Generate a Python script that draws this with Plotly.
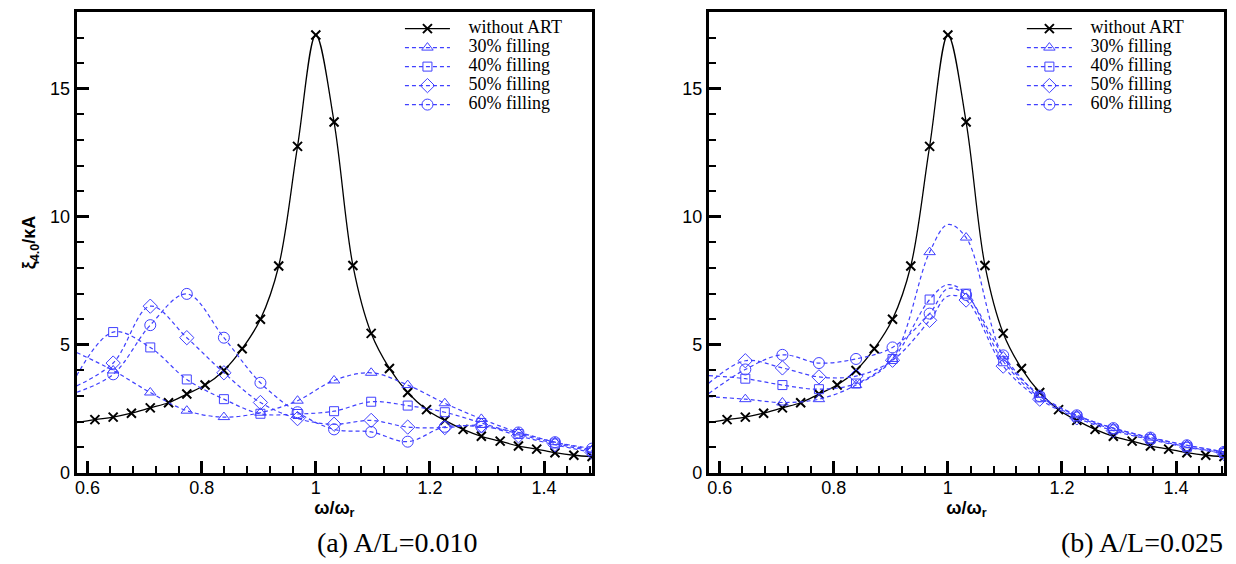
import plotly.graph_objects as go

# frequency ratio omega / omega_r at every computed point
omega = [0.581, 0.613, 0.645, 0.677, 0.710, 0.742, 0.774, 0.806, 0.839, 0.871,
         0.903, 0.935, 0.968, 1.000, 1.032, 1.065, 1.097, 1.129, 1.161, 1.194,
         1.226, 1.258, 1.290, 1.323, 1.355, 1.387, 1.419, 1.452, 1.484]

# response without anti-roll tank (same in both panels)
no_art = [1.96, 2.08, 2.18, 2.33, 2.54, 2.74, 3.08, 3.43, 4.00, 4.85,
          6.00, 8.08, 12.75, 17.10, 13.70, 8.10, 5.45, 4.08, 3.14, 2.47,
          2.05, 1.70, 1.43, 1.24, 1.05, 0.93, 0.79, 0.69, 0.64]

# filling cases are marked at every second frequency
omega_fill = omega[::2]

# (a) A/L = 0.010
a_fill30 = [4.70, 4.00, 3.14, 2.43, 2.18, 2.35, 2.82, 3.61, 3.91, 3.43, 2.72, 2.11, 1.58, 1.20, 0.90]
a_fill40 = [3.80, 5.50, 4.90, 3.65, 2.88, 2.31, 2.30, 2.41, 2.78, 2.63, 2.37, 1.95, 1.52, 1.15, 0.85]
a_fill50 = [3.40, 4.29, 6.51, 5.28, 3.91, 2.75, 2.12, 1.90, 2.05, 1.79, 1.77, 1.85, 1.45, 1.10, 0.80]
a_fill60 = [3.15, 3.85, 5.77, 6.99, 5.28, 3.52, 2.37, 1.70, 1.60, 1.22, 1.80, 1.80, 1.58, 1.20, 0.95]

# (b) A/L = 0.025
b_fill30 = [2.98, 2.88, 2.75, 2.88, 3.43, 4.45, 8.62, 9.19, 4.55, 3.05, 2.25, 1.75, 1.38, 1.08, 0.82]
b_fill40 = [3.80, 3.68, 3.43, 3.27, 3.49, 4.45, 6.77, 7.00, 4.36, 2.95, 2.20, 1.70, 1.33, 1.02, 0.78]
b_fill50 = [3.50, 4.38, 4.10, 3.75, 3.78, 4.40, 5.96, 6.75, 4.17, 2.88, 2.15, 1.65, 1.30, 1.00, 0.76]
b_fill60 = [3.10, 4.04, 4.61, 4.29, 4.45, 4.90, 6.22, 6.95, 4.59, 3.00, 2.25, 1.75, 1.38, 1.08, 0.82]

# unmarked curve values at omega/omega_r = 1 (between the marked points), panel (b)
omega_peak = 1.000
b_peak = [9.70, 7.35, 6.90, 7.20]

fill_names = ['30% filling', '40% filling', '50% filling', '60% filling']
fill_symbols = ['triangle-up-open', 'square-open', 'diamond-open', 'circle-open']
fill_sizes = [10, 9, 11, 11]

panels = [
    ('x', 'y', 'legend', [a_fill30, a_fill40, a_fill50, a_fill60], None),
    ('x2', 'y2', 'legend2', [b_fill30, b_fill40, b_fill50, b_fill60], b_peak),
]

BLUE = 'rgb(64,64,255)'
LEG_SPAN = '<span style="font-size:18px">{}</span>'

fig = go.Figure()

for xa, ya, leg, fills, peaks in panels:
    # black reference curve
    fig.add_trace(go.Scatter(
        x=omega, y=no_art, xaxis=xa, yaxis=ya, mode='lines',
        line=dict(color='black', width=1.3, shape='spline'), showlegend=False,
    ))
    fig.add_trace(go.Scatter(
        x=omega[1:], y=no_art[1:], xaxis=xa, yaxis=ya, mode='markers',
        marker=dict(symbol='x-thin', size=9, line=dict(color='black', width=2)),
        showlegend=False,
    ))
    fig.add_trace(go.Scatter(
        x=[None], y=[None], xaxis=xa, yaxis=ya, mode='lines+markers', legend=leg,
        name=LEG_SPAN.format('   without ART'),
        line=dict(color='black', width=1.3),
        marker=dict(symbol='x-thin', size=9, line=dict(color='black', width=2)),
    ))
    for i, (vals, name, sym, size) in enumerate(zip(fills, fill_names, fill_symbols, fill_sizes)):
        line_x, line_y = list(omega_fill), list(vals)
        if peaks is not None:
            pos = sum(1 for v in omega_fill if v < omega_peak)
            line_x.insert(pos, omega_peak)
            line_y.insert(pos, peaks[i])
        fig.add_trace(go.Scatter(
            x=line_x, y=line_y, xaxis=xa, yaxis=ya, mode='lines',
            line=dict(color=BLUE, width=1.2, dash='4px,3px', shape='spline'),
            showlegend=False,
        ))
        fig.add_trace(go.Scatter(
            x=omega_fill[1:], y=vals[1:], xaxis=xa, yaxis=ya, mode='markers',
            marker=dict(symbol=sym, size=size, color=BLUE, line=dict(color=BLUE, width=1)),
            showlegend=False,
        ))
        fig.add_trace(go.Scatter(
            x=[None], y=[None], xaxis=xa, yaxis=ya, mode='lines+markers', legend=leg,
            name=LEG_SPAN.format('   ' + name),
            line=dict(color=BLUE, width=1.2, dash='4px,3px'),
            marker=dict(symbol=sym, size=size, color=BLUE, line=dict(color=BLUE, width=1)),
        ))

x_axis = dict(
    range=[omega[0], omega[-1]], tick0=0.6, dtick=0.2,
    showline=True, linewidth=3, linecolor='black', mirror=True,
    ticks='inside', ticklen=12, tickwidth=2.5, tickcolor='black',
    minor=dict(tick0=0.6, dtick=0.04, ticks='inside', ticklen=7, tickwidth=1.5, tickcolor='black'),
    showgrid=False, zeroline=False, ticklabelstandoff=-4,
    tickfont=dict(family='Liberation Sans', size=18, color='black'),
    title=dict(text='<b>ω/ω<sub>r</sub></b>', standoff=0,
               font=dict(family='Liberation Sans', size=18, color='black')),
)
y_axis = dict(
    range=[0, 18], tick0=0, dtick=5,
    showline=True, linewidth=3, linecolor='black', mirror=True,
    ticks='inside', ticklen=12, tickwidth=2.5, tickcolor='black',
    minor=dict(tick0=0, dtick=1, ticks='inside', ticklen=7, tickwidth=1.5, tickcolor='black'),
    showgrid=False, zeroline=False,
    tickfont=dict(family='Liberation Sans', size=18, color='black'),
)

legend_style = dict(
    font=dict(family='Liberation Serif', size=12, color='black'),
    bgcolor='rgba(0,0,0,0)', borderwidth=0, itemwidth=45,
    xanchor='left', yanchor='top', tracegroupgap=0,
)

caption_font = dict(family='Liberation Serif', size=28, color='black')

fig.update_layout(
    width=1236, height=564,
    margin=dict(l=0, r=0, t=0, b=0),
    paper_bgcolor='white', plot_bgcolor='white',
    xaxis=dict(x_axis, domain=[0.0540, 0.4717], anchor='y'),
    xaxis2=dict(x_axis, domain=[0.5663, 0.9838], anchor='y2'),
    yaxis=dict(y_axis, domain=[0.1608, 0.9929], anchor='x',
               title=dict(text='<b>ξ<sub>4.0</sub>/κA</b>', standoff=10,
                          font=dict(family='Liberation Sans', size=18, color='black'))),
    yaxis2=dict(y_axis, domain=[0.1608, 0.9929], anchor='x2'),
    legend=dict(legend_style, x=0.316, y=0.989),
    legend2=dict(legend_style, x=0.820, y=0.989),
    annotations=[
        dict(text='(a) A/L=0.010', x=0.314, y=0.036, xref='paper', yref='paper',
             xanchor='center', yanchor='middle', showarrow=False, font=caption_font),
        dict(text='(b) A/L=0.025', x=0.917, y=0.036, xref='paper', yref='paper',
             xanchor='center', yanchor='middle', showarrow=False, font=caption_font),
    ],
)

fig.write_html('out.html')
